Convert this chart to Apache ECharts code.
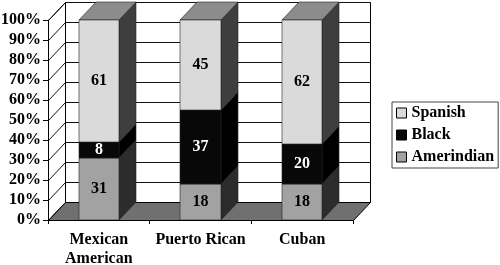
<!DOCTYPE html>
<html><head><meta charset="utf-8">
<script src="https://cdn.jsdelivr.net/npm/echarts@6/dist/echarts.min.js"></script>
<style>html,body{margin:0;padding:0;background:#fff}#c{width:500px;height:265px}</style>
</head><body><div id="c"></div>
<script>
const categories = ['Mexican\nAmerican', 'Puerto Rican', 'Cuban'];
const amerindian = [31, 18, 18];
const black = [8, 37, 20];
const spanish = [61, 45, 62];
const seriesNames = ['Amerindian', 'Black', 'Spanish'];
const legendOrder = ['Spanish', 'Black', 'Amerindian'];
const yTickValues = [0, 10, 20, 30, 40, 50, 60, 70, 80, 90, 100];

const DX = 17, DY = -18, BAR_RATIO = 0.395;
const FONT = '"Liberation Serif", "Times New Roman", serif';
const faceColors = {
  Amerindian: {front: '#a2a2a2', side: '#2c2c2c', top: '#8a8a8a', label: '#000'},
  Black: {front: '#080808', side: '#000000', top: '#202020', label: '#fff'},
  Spanish: {front: '#dadada', side: '#3e3e3e', top: '#8c8c8c', label: '#000'}
};
const valuesBySeries = [amerindian, black, spanish];

function buildData(si) {
  return categories.map((c, i) => {
    let base = 0;
    for (let k = 0; k < si; k++) base += valuesBySeries[k][i];
    return [i, base, valuesBySeries[si][i]];
  });
}

function renderWalls(params, api) {
  const cs = params.coordSys;
  const x0 = Math.round(cs.x) + 0.5, x1 = Math.round(cs.x + cs.width) + 0.5;
  const yT = Math.round(cs.y) + 0.5, yB = Math.round(cs.y + cs.height) + 0.5;
  const ch = [];
  ch.push({type: 'rect', shape: {x: x0 + DX, y: yT + DY, width: x1 - x0, height: yB - yT},
    style: {fill: '#fff', stroke: '#000', lineWidth: 1}});
  ch.push({type: 'polygon', shape: {points: [[x0, yT], [x0 + DX, yT + DY], [x0 + DX, yB + DY], [x0, yB]]},
    style: {fill: '#fff', stroke: '#000', lineWidth: 1}});
  yTickValues.forEach(v => {
    const y = Math.round(api.coord([0, v])[1]) + 0.5;
    ch.push({type: 'line', shape: {x1: x0 + DX, y1: y + DY, x2: x1 + DX, y2: y + DY}, style: {stroke: '#111', lineWidth: 1}});
    ch.push({type: 'line', shape: {x1: x0, y1: y, x2: x0 + DX, y2: y + DY}, style: {stroke: '#111', lineWidth: 1}});
  });
  ch.push({type: 'polygon', shape: {points: [[x0, yB], [x1, yB], [x1 + DX, yB + DY], [x0 + DX, yB + DY]]},
    style: {fill: '#707070', stroke: '#000', lineWidth: 1}});
  return {type: 'group', children: ch};
}

function makeBarRender(name, isTop) {
  const col = faceColors[name];
  return function (params, api) {
    const idx = api.value(0), base = api.value(1), val = api.value(2);
    const cb = api.coord([idx, base]);
    const ct = api.coord([idx, base + val]);
    const w = api.size([1, 0])[0] * BAR_RATIO;
    const xl = Math.round(cb[0] - w / 2), xr = Math.round(cb[0] + w / 2);
    const yb = cb[1], yt = ct[1];
    const ch = [];
    ch.push({type: 'polygon', shape: {points: [[xr, yb], [xr + DX, yb + DY], [xr + DX, yt + DY], [xr, yt]]},
      style: {fill: col.side, stroke: '#222', lineWidth: 0.6}});
    if (isTop) {
      ch.push({type: 'polygon', shape: {points: [[xl, yt], [xr, yt], [xr + DX, yt + DY], [xl + DX, yt + DY]]},
        style: {fill: col.top, stroke: '#222', lineWidth: 0.6}});
    }
    ch.push({type: 'rect', shape: {x: xl, y: yt, width: xr - xl, height: yb - yt},
      style: {fill: col.front, stroke: '#222', lineWidth: 0.6}});
    ch.push({type: 'text', style: {text: String(val), x: (xl + xr) / 2, y: (yb + yt) / 2,
      align: 'center', verticalAlign: 'middle', fontSize: 16, fontWeight: 'bold', fontFamily: FONT, fill: col.label}});
    return {type: 'group', children: ch};
  };
}

const series = [{
  type: 'custom', name: '__walls', data: [[0, 0, 0]], renderItem: renderWalls, silent: true,
  encode: {x: 0, y: 2}, z: 1, clip: false
}];
seriesNames.forEach((n, si) => {
  series.push({
    type: 'custom', name: n, data: buildData(si), renderItem: makeBarRender(n, si === seriesNames.length - 1),
    encode: {x: 0, y: 2}, z: 2 + si, clip: false, itemStyle: {color: faceColors[n].front}
  });
});

const chart = echarts.init(document.getElementById('c'));
chart.setOption({
  animation: false,
  backgroundColor: '#fff',
  grid: {left: 48, right: 147, top: 20, bottom: 45, containLabel: false, outerBoundsMode: 'none'},
  xAxis: {
    type: 'category', data: categories,
    axisLine: {show: true, lineStyle: {color: '#000', width: 1}},
    axisTick: {show: true, length: 4, lineStyle: {color: '#000'}},
    axisLabel: {interval: 0, fontFamily: FONT, fontWeight: 'bold', fontSize: 16, color: '#000', lineHeight: 19, margin: 10},
    z: 10
  },
  yAxis: {
    type: 'value', min: 0, max: 100, interval: 10,
    axisLine: {show: true, lineStyle: {color: '#000', width: 1}},
    axisTick: {show: true, length: 5, lineStyle: {color: '#000'}},
    splitLine: {show: false},
    axisLabel: {formatter: '{value}%', fontFamily: FONT, fontWeight: 'bold', fontSize: 16, color: '#000', margin: 7},
    z: 10
  },
  legend: {
    orient: 'vertical', left: 392, top: 102, data: legendOrder,
    itemWidth: 10, itemHeight: 10, itemGap: 6, icon: 'rect',
    borderColor: '#444', borderWidth: 1, padding: [3, 4, 3, 4],
    textStyle: {fontFamily: FONT, fontWeight: 'bold', fontSize: 16, color: '#000'},
    itemStyle: {borderColor: '#000', borderWidth: 1}
  },
  series: series
});
</script></body></html>
